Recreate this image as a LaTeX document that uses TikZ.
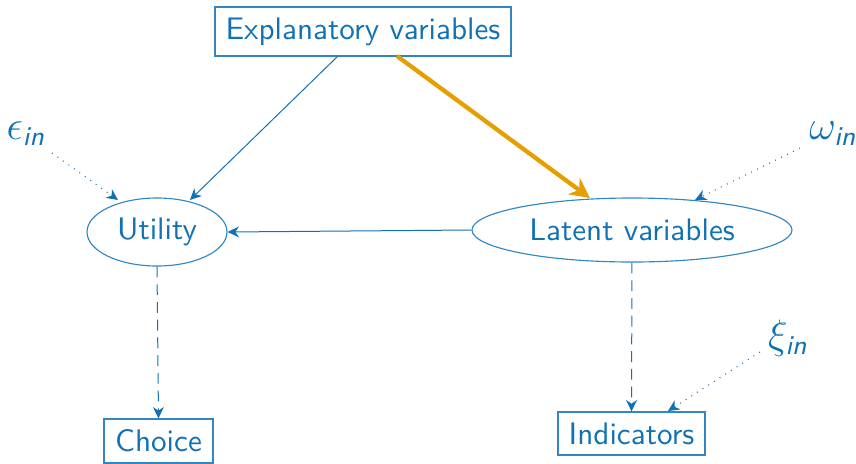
\documentclass[tikz,border=0pt]{standalone}
\usepackage{amsmath}
\usetikzlibrary{shapes.geometric,arrows.meta}
\definecolor{bl}{RGB}{16,114,180}
\definecolor{bline}{RGB}{50,135,195}
\definecolor{org}{RGB}{230,159,0}
\renewcommand{\familydefault}{\sfdefault}
\newcommand{\sub}{_{\textsf{\itshape in}}}
\begin{document}
\begin{tikzpicture}[x=0.35pt,y=-0.35pt,font=\sffamily\fontsize{10.9}{13}\selectfont,
  every node/.style={text=bl},
  boxn/.style={draw=bline,line width=0.4pt,inner sep=0pt},
  elln/.style={draw=bline,line width=0.4pt,ellipse,inner sep=0pt},
  greek/.style={font=\sffamily\fontsize{13.5}{15}\selectfont},
  arr/.style={draw=bl,line width=0.35pt,-{Stealth[length=4pt,width=3.8pt]}},
  dotarr/.style={arr,dotted},
  dasharr/.style={arr,dash pattern=on 3.8pt off 2.4pt}]
\useasboundingbox (0,0) rectangle (856,463);
\node[boxn,minimum width=296*0.35pt,minimum height=49*0.35pt] (expl) at (363,31.5) {Explanatory variables};
\node[elln,minimum width=140*0.35pt,minimum height=68*0.35pt] (util) at (157,232) {Utility};
\node[elln,minimum width=320*0.35pt,minimum height=64*0.35pt] (lat) at (632,230) {Latent variables};
\node[boxn,minimum width=109*0.35pt,minimum height=44*0.35pt] (choice) at (158.5,441) {Choice};
\node[boxn,minimum width=147*0.35pt,minimum height=43*0.35pt] (ind) at (631.5,433.5) {Indicators};
\node[greek] (eps) at (26,134) {$\epsilon\sub$};
\node[greek] (omg) at (833,134) {$\omega\sub$};
\node[greek] (xi) at (788,338) {$\xi\sub$};
\coordinate (e1) at (338,56);
\coordinate (e2) at (397,56);
\coordinate (u1) at (190,200);
\coordinate (l1) at (590,198);
\coordinate (eps1) at (52,153);
\coordinate (u2) at (118,200);
\coordinate (omg1) at (800,148);
\coordinate (l2) at (695,200);
\coordinate (xi1) at (760,352);
\coordinate (i1) at (668,411);
\draw[arr] (e1) -- (u1);
\draw[draw=org,line width=1.5pt,-{Stealth[length=7pt,width=7pt]}] (e2) -- (l1);
\draw[arr] (lat.west) -- (util.east);
\draw[dasharr] (util.south) -- (choice.north);
\draw[dasharr] (lat.south) -- (ind.north);
\draw[dotarr] (eps1) -- (u2);
\draw[dotarr] (omg1) -- (l2);
\draw[dotarr] (xi1) -- (i1);
\end{tikzpicture}
\end{document}
